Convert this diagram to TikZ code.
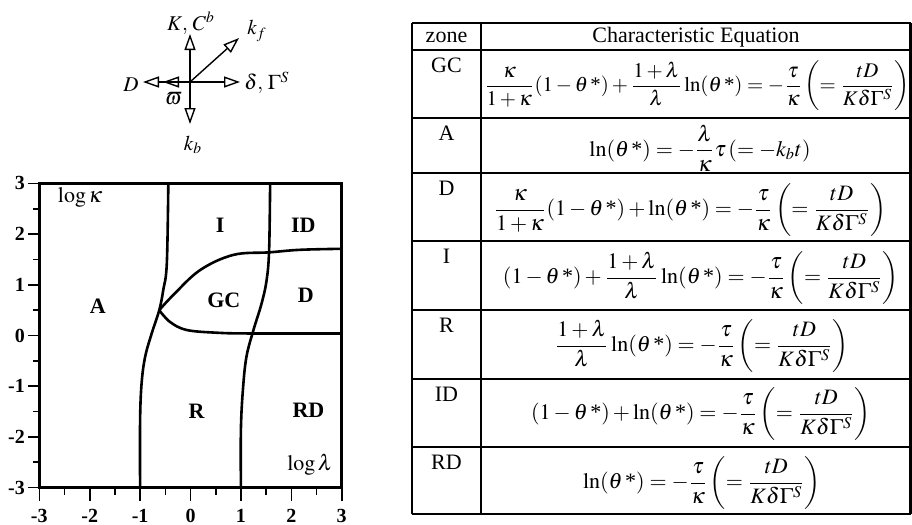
\documentclass[tikz,border=0pt]{standalone}
\usepackage{mathptmx}
\usepackage{fontspec}
\setmainfont{Liberation Serif}
\usetikzlibrary{arrows.meta}
\newcommand{\thst}{\theta\,\mbox{*}}
\newcommand{\tdrhs}{\left(=\frac{tD}{K\delta\Gamma^{S}}\right)}
\tikzset{
  frame/.style={line width=1.3pt},
  curve/.style={line width=1.3pt},
  rule/.style={line width=1.2pt},
  zonelbl/.style={font=\fontsize{11}{13}\selectfont\bfseries},
  ticklbl/.style={font=\fontsize{10}{12}\selectfont\bfseries, inner sep=0pt},
  rowlbl/.style={font=\fontsize{11}{13}\selectfont, anchor=base},
  eqn/.style={font=\fontsize{11}{13}\selectfont, inner sep=0pt},
  openarrow/.style={-{Triangle[open,length=8pt,width=5.5pt]}, line width=0.7pt},
  vlbl/.style={font=\fontsize{10.5}{12}\selectfont, inner sep=1pt}
}
\begin{document}
\begin{tikzpicture}[x=0.5pt,y=-0.5pt]
  \useasboundingbox (0,0) rectangle (912,525);
  % rate/parameter vectors
  \coordinate (o) at (190,82);
  \coordinate (tipK) at (190,34);
  \coordinate (tipkb) at (190,124);
  \coordinate (tipD) at (143,82);
  \coordinate (tipw) at (163,82);
  \coordinate (tipd) at (240,82);
  \coordinate (tipkf) at (239,38);
  \draw[openarrow] (o) -- (tipK);
  \draw[openarrow] (o) -- (tipkb);
  \draw[openarrow] (o) -- (tipD);
  \draw[openarrow] (o) -- (tipw);
  \draw[openarrow] (o) -- (tipd);
  \draw[openarrow] (o) -- (tipkf);
  \node[vlbl] (lK) at (191,23) {$K,\,C^{b}$};
  \node[vlbl] (lkf) at (257,31) {$k_f$};
  \node[vlbl,anchor=east] (lD) at (141,85) {$D$};
  \node[vlbl,anchor=west] (ld) at (242,83) {$\delta,\,\Gamma^{S}$};
  \node[vlbl] (lw) at (174,99) {$\varpi$};
  \node[vlbl] (lkb) at (193,145) {$k_b$};
  % zone map, log(lambda) vs log(kappa)
  \begin{scope}[shift={(190.5,335.5)},x=25.2pt,y=25.35pt]
    \draw[frame] (-3,-3) rectangle (3,3);
    \foreach \t in {-3,...,3} {
      \draw[line width=0.8pt] ([xshift=-5.5pt]-3,\t) -- (-3,\t);
      \draw[line width=0.8pt] ([yshift=-6.5pt]\t,-3) -- (\t,-3);
    }
    \foreach \t in {-2.5,-1.5,...,2.5} {
      \draw[line width=0.8pt] ([xshift=-3pt]-3,\t) -- (-3,\t);
      \draw[line width=0.8pt] ([yshift=-3.5pt]\t,-3) -- (\t,-3);
    }
    \foreach \t [count=\i] in {-3,...,3} {
      \node[ticklbl,anchor=east] (yl\i) at ([xshift=-7pt]-3,\t) {\t};
      \node[ticklbl] (xl\i) at ([yshift=-14pt]\t,-3) {\t};
    }
    % zone boundaries
    \draw[curve] plot[smooth,tension=0.6] coordinates {(-0.44,3) (-0.47,1.42)
      (-0.54,0.90) (-0.62,0.50) (-0.77,0.04) (-0.90,-0.42) (-0.97,-0.94)
      (-1.0,-1.67) (-1.0,-3)};
    \draw[curve] plot[smooth,tension=0.6] coordinates {(1.58,3) (1.56,1.69)
      (1.51,1.09) (1.41,0.63) (1.25,0.11) (1.11,-0.42) (1.04,-1.07)
      (1.0,-1.86) (1.0,-3)};
    \draw[curve] plot[smooth,tension=0.6] coordinates {(-0.62,0.50) (-0.34,0.80)
      (0.19,1.29) (0.85,1.59) (1.56,1.64) (2.17,1.69) (3,1.71)};
    \draw[curve] plot[smooth,tension=0.6] coordinates {(-0.62,0.50) (-0.41,0.27)
      (-0.08,0.11) (0.52,0.055) (1.2,0.04) (3,0.04)};
    \node[zonelbl] (zA) at (-1.84,0.57) {A};
    \node[zonelbl] (zI) at (0.59,2.18) {I};
    \node[zonelbl] (zID) at (2.24,2.18) {ID};
    \node[zonelbl] (zGC) at (0.66,0.70) {GC};
    \node[zonelbl] (zD) at (2.29,0.80) {D};
    \node[zonelbl] (zR) at (0.12,-1.50) {R};
    \node[zonelbl] (zRD) at (2.34,-1.47) {RD};
    \node[eqn] (lk) at (-2.19,2.73) {$\log\kappa$};
    \node[eqn] (ll) at (2.37,-2.55) {$\log\lambda$};
  \end{scope}
  % table of characteristic equations
  \foreach \y in {23,50,118,173,241,310,379,447,514}
    \draw[rule] (412,\y) -- (910.5,\y);
  \foreach \x in {412,481,910.5}
    \draw[rule] (\x,23) -- (\x,514);
  \node[eqn] (hz) at (446.5,37) {zone};
  \node[eqn] (hc) at (696,37) {Characteristic Equation};
  \node[rowlbl] (rGC) at (446.5,72) {GC};
  \node[rowlbl] (rA) at (446.5,140) {A};
  \node[rowlbl] (rD) at (446.5,195) {D};
  \node[rowlbl] (rI) at (446.5,263) {I};
  \node[rowlbl] (rR) at (446.5,332) {R};
  \node[rowlbl] (rID) at (446.5,401) {ID};
  \node[rowlbl] (rRD) at (446.5,469) {RD};
  \node[eqn,font=\fontsize{10.4}{12}\selectfont] (eGC) at (697,86) {$\displaystyle \frac{\kappa}{1+\kappa}(1-\thst)+\frac{1+\lambda}{\lambda}\ln(\thst)=-\frac{\tau}{\kappa}\tdrhs$};
  \node[eqn] (eA) at (700,148) {$\displaystyle \ln(\thst)=-\frac{\lambda}{\kappa}\tau\,(=-k_bt)$};
  \node[eqn] (eD) at (690,210) {$\displaystyle \frac{\kappa}{1+\kappa}(1-\thst)+\ln(\thst)=-\frac{\tau}{\kappa}\tdrhs$};
  \node[eqn] (eI) at (701,278) {$\displaystyle (1-\thst)+\frac{1+\lambda}{\lambda}\ln(\thst)=-\frac{\tau}{\kappa}\tdrhs$};
  \node[eqn] (eR) at (702,346) {$\displaystyle \frac{1+\lambda}{\lambda}\ln(\thst)=-\frac{\tau}{\kappa}\tdrhs$};
  \node[eqn] (eID) at (701,414) {$\displaystyle (1-\thst)+\ln(\thst)=-\frac{\tau}{\kappa}\tdrhs$};
  \node[eqn] (eRD) at (702,483) {$\displaystyle \ln(\thst)=-\frac{\tau}{\kappa}\tdrhs$};
\end{tikzpicture}
\end{document}
